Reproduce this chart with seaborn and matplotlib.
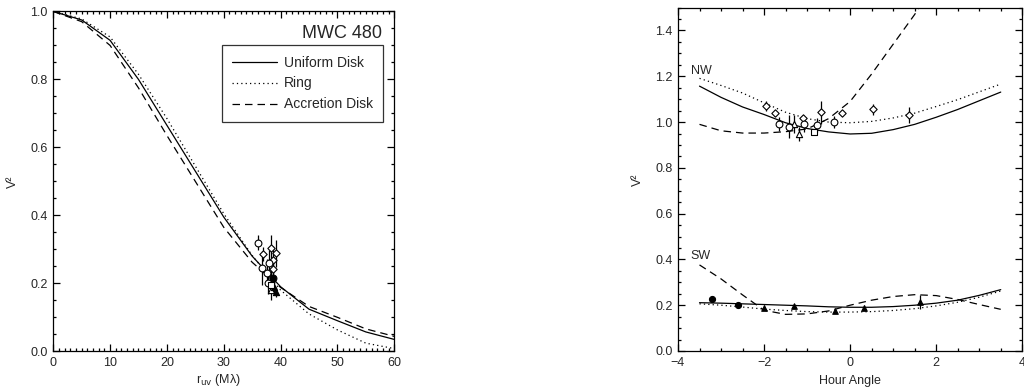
import matplotlib
matplotlib.use("Agg")
import matplotlib.pyplot as plt
import seaborn as sns
import pandas as pd
from matplotlib.ticker import MultipleLocator

# ---- left panel: V^2 vs baseline (model curves) ----
ruv = [0, 5, 10, 15, 20, 25, 30, 35, 40, 45, 50, 55, 60]
uniform_disk = [1.000, 0.975, 0.915, 0.800, 0.665, 0.530, 0.395, 0.280, 0.190, 0.124, 0.090, 0.057, 0.035]
ring = [1.000, 0.978, 0.925, 0.815, 0.685, 0.545, 0.405, 0.282, 0.180, 0.110, 0.063, 0.024, 0.008]
accretion_disk = [1.000, 0.970, 0.900, 0.775, 0.635, 0.500, 0.365, 0.262, 0.188, 0.132, 0.100, 0.066, 0.044]

# measured points (r_uv, V2, error, marker, filled)
pts_ruv = [36.1, 36.95, 36.7, 38.4, 39.2, 37.55, 38.0, 37.8, 38.6, 38.25, 38.4, 38.4, 38.7, 38.8, 39.2, 38.7]
pts_v2 = [0.319, 0.286, 0.244, 0.303, 0.288, 0.231, 0.259, 0.200, 0.241, 0.210, 0.180, 0.195, 0.215, 0.190, 0.175, 0.270]
pts_err = [0.022, 0.02, 0.05, 0.04, 0.04, 0.04, 0.04, 0.03, 0.04, 0.03, 0.03, 0.01, 0.02, 0.02, 0.015, 0.04]
pts_mark = ["o", "D", "o", "D", "D", "o", "o", "o", "D", "^", "^", "s", "o", "^", "^", "D"]
pts_fill = [False] * 12 + [True, True, True, False]

# ---- right panel: V^2 vs hour angle ----
ha = [-3.5, -3.0, -2.5, -2.0, -1.5, -1.0, -0.5, 0.0, 0.5, 1.0, 1.5, 2.0, 2.5, 3.0, 3.5]
nw_ud = [1.157, 1.108, 1.066, 1.033, 0.997, 0.972, 0.957, 0.948, 0.951, 0.967, 0.990, 1.021, 1.055, 1.093, 1.131]
nw_ring = [1.191, 1.160, 1.127, 1.084, 1.043, 1.015, 1.000, 0.997, 1.003, 1.018, 1.039, 1.068, 1.098, 1.132, 1.166]
ha_acc = [-3.5, -3.0, -2.5, -2.0, -1.5, -1.0, -0.5, 0.0, 0.5, 1.0, 1.5, 2.0]
nw_acc = [0.990, 0.962, 0.952, 0.952, 0.958, 0.970, 1.015, 1.090, 1.210, 1.340, 1.470, 1.620]
sw_ud = [0.211, 0.209, 0.206, 0.203, 0.200, 0.197, 0.193, 0.191, 0.191, 0.194, 0.200, 0.209, 0.222, 0.243, 0.268]
sw_ring = [0.206, 0.200, 0.192, 0.183, 0.177, 0.172, 0.170, 0.170, 0.172, 0.177, 0.185, 0.197, 0.213, 0.235, 0.262]
sw_acc = [0.376, 0.315, 0.245, 0.178, 0.160, 0.162, 0.175, 0.200, 0.222, 0.238, 0.246, 0.242, 0.225, 0.203, 0.182]

nw_ha = [-1.95, -1.74, -1.65, -1.41, -1.30, -1.18, -1.10, -1.07, -0.85, -0.76, -0.67, -0.38, -0.18, 0.52, 1.36]
nw_v2 = [1.070, 1.038, 0.990, 0.980, 0.991, 0.948, 1.016, 0.991, 0.958, 0.987, 1.042, 1.000, 1.038, 1.055, 1.031]
nw_err = [0.022, 0.01, 0.03, 0.05, 0.04, 0.03, 0.015, 0.035, 0.01, 0.03, 0.05, 0.025, 0.01, 0.025, 0.035]
nw_mark = ["D", "D", "o", "o", "^", "^", "D", "o", "s", "o", "D", "o", "D", "D", "D"]

sw_ha = [-3.20, -2.60, -1.99, -1.30, -0.35, 0.33, 1.63]
sw_v2 = [0.227, 0.201, 0.189, 0.197, 0.175, 0.189, 0.215]
sw_err = [0.015, 0.008, 0.01, 0.01, 0.01, 0.01, 0.03]
sw_mark = ["o", "o", "^", "^", "^", "^", "^"]

sns.set_style("ticks")
plt.rcParams["font.family"] = ["Liberation Sans", "DejaVu Sans"]

fig = plt.figure(figsize=(10.24, 3.92), dpi=100)
ax1 = fig.add_axes([0.052, 0.1038, 0.333, 0.867])
ax2 = fig.add_axes([0.6621, 0.1046, 0.3362, 0.876])

solid = dict(color="black", lw=0.9)
dotted = dict(color="black", lw=0.9, linestyle=(0, (1, 2.5)))
dashed = dict(color="black", lw=0.9, linestyle=(0, (6, 4)))

marker_size = {"o": 24, "D": 14, "^": 20, "s": 22}


def draw_points(ax, xs, ys, errs, marks, fills, scale=1.0):
    ax.errorbar(xs, ys, yerr=errs, fmt="none", ecolor="black", elinewidth=0.9, capsize=0)
    df = pd.DataFrame({"x": xs, "y": ys, "m": marks, "f": fills})
    for (m, f), g in df.groupby(["m", "f"]):
        sns.scatterplot(x=g["x"], y=g["y"], marker=m, s=marker_size[m] * scale,
                        facecolor="black" if f else "white",
                        edgecolor="black", linewidth=0.8, ax=ax, zorder=3)


# left panel
sns.lineplot(x=ruv, y=uniform_disk, ax=ax1, label="Uniform Disk", **solid)
sns.lineplot(x=ruv, y=ring, ax=ax1, label="Ring", **dotted)
sns.lineplot(x=ruv, y=accretion_disk, ax=ax1, label="Accretion Disk", **dashed)
draw_points(ax1, pts_ruv, pts_v2, pts_err, pts_mark, pts_fill)

ax1.set_xlim(0, 60)
ax1.set_ylim(0, 1.0)
ax1.xaxis.set_major_locator(MultipleLocator(10))
ax1.xaxis.set_minor_locator(MultipleLocator(1))
ax1.yaxis.set_major_locator(MultipleLocator(0.2))
ax1.yaxis.set_minor_locator(MultipleLocator(0.05))
ax1.yaxis.set_major_formatter(plt.FormatStrFormatter("%.1f"))
ax1.set_xlabel(r"r$_{\rm uv}$ (Mλ)", fontsize=9)
ax1.set_ylabel("V²", fontsize=9)
ax1.xaxis.set_label_coords(0.486, -0.062)
ax1.yaxis.set_label_coords(-0.10, 0.5)
ax1.text(57.8, 0.936, "MWC 480", ha="right", va="center", fontsize=13)
leg = ax1.legend(loc="upper right", bbox_to_anchor=(0.968, 0.901), fontsize=10,
                 handlelength=3.2, handletextpad=0.5, labelspacing=0.5,
                 borderpad=0.75, borderaxespad=0, fancybox=False, frameon=True)
leg.get_frame().set_edgecolor("black")
leg.get_frame().set_linewidth(0.9)

# right panel
sns.lineplot(x=ha, y=nw_ud, ax=ax2, **solid)
sns.lineplot(x=ha, y=nw_ring, ax=ax2, **dotted)
sns.lineplot(x=ha_acc, y=nw_acc, ax=ax2, **dashed)
sns.lineplot(x=ha, y=sw_ud, ax=ax2, **solid)
sns.lineplot(x=ha, y=sw_ring, ax=ax2, **dotted)
sns.lineplot(x=ha, y=sw_acc, ax=ax2, **dashed)
draw_points(ax2, nw_ha, nw_v2, nw_err, nw_mark, [False] * len(nw_ha))
draw_points(ax2, sw_ha, sw_v2, sw_err, sw_mark, [True] * len(sw_ha), 0.8)

ax2.text(-3.7, 1.225, "NW", ha="left", va="center", fontsize=9)
ax2.text(-3.7, 0.415, "SW", ha="left", va="center", fontsize=9)
ax2.set_xlim(-4, 4)
ax2.set_ylim(0, 1.5)
ax2.xaxis.set_major_locator(MultipleLocator(2))
ax2.xaxis.set_minor_locator(MultipleLocator(0.5))
ax2.yaxis.set_major_locator(MultipleLocator(0.2))
ax2.yaxis.set_minor_locator(MultipleLocator(0.05))
ax2.yaxis.set_major_formatter(plt.FormatStrFormatter("%.1f"))
ax2.set_xlabel("Hour Angle", fontsize=9)
ax2.set_ylabel("V²", fontsize=9)
ax2.xaxis.set_label_coords(0.5, -0.07)
ax2.yaxis.set_label_coords(-0.099, 0.5)
if ax2.get_legend() is not None:
    ax2.get_legend().remove()

for ax in (ax1, ax2):
    ax.tick_params(which="both", direction="in", top=True, right=True,
                   labelsize=9, width=0.9, color="black", pad=4)
    ax.tick_params(which="major", length=5)
    ax.tick_params(which="minor", length=2.5)
    for s in ax.spines.values():
        s.set_linewidth(0.9)
        s.set_color("black")

fig.savefig("out.png", dpi=100)
